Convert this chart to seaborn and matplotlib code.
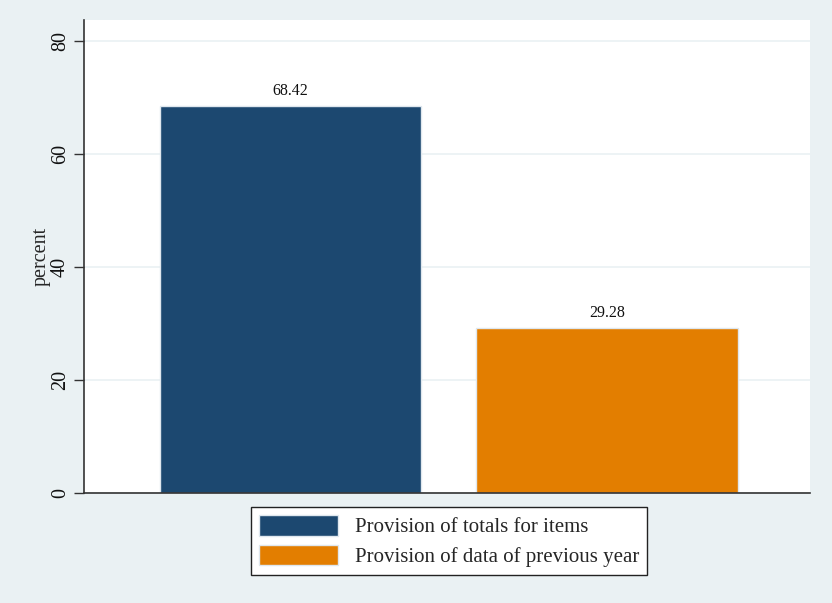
import matplotlib
matplotlib.use("Agg")
import matplotlib.pyplot as plt
import seaborn as sns
import pandas as pd
from matplotlib.patches import Patch

categories = ["Provision of totals for items", "Provision of data of previous year"]
percent = [68.42, 29.28]
colors = ["#1C4870", "#E37E00"]

BG = "#EAF1F3"

sns.set_style("white")
plt.rcParams["font.family"] = ["Liberation Serif", "DejaVu Serif"]

df = pd.DataFrame({"item": categories, "percent": percent})

fig = plt.figure(figsize=(8.32, 6.03), dpi=100, facecolor=BG)
ax = fig.add_axes([84 / 832, 1 - 493 / 603, (810 - 84) / 832, (493 - 20) / 603])
ax.set_facecolor("white")

sns.barplot(
    data=df, x="item", y="percent", hue="item", palette=colors, saturation=1,
    width=0.825, legend=False, ax=ax, edgecolor="#dfe7ee", linewidth=1.0,
)

for c in ax.containers:
    ax.bar_label(c, fmt="%.2f", padding=5, fontsize=11.5, color="#111111")

ax.set_xlim(-0.652, 1.641)
ax.set_ylim(0, 80 * 473 / 452)
ax.set_yticks([0, 20, 40, 60, 80])
ax.set_yticklabels(["0", "20", "40", "60", "80"], rotation=90, va="center", fontsize=14.5)
ax.set_xticks([])
ax.set_xlabel("")
ax.set_ylabel("percent", fontsize=14.5, labelpad=0)
ax.yaxis.grid(True, color=BG, linewidth=1.2)
ax.set_axisbelow(True)
ax.tick_params(axis="y", direction="out", length=7, width=1, color="#333333", pad=3,
               left=True, labelcolor="#111111")

for side in ["top", "right"]:
    ax.spines[side].set_visible(False)
for side in ["left", "bottom"]:
    ax.spines[side].set_color("#333333")
    ax.spines[side].set_linewidth(1.2)

handles = [Patch(facecolor=col, edgecolor="#dfe7ee") for col in colors]
leg = fig.legend(
    handles, categories, loc="center", bbox_to_anchor=(449 / 832, 1 - 541 / 603),
    ncol=1, fontsize=15, frameon=True, fancybox=False, edgecolor="#222222", facecolor="white",
    framealpha=1, handlelength=3.8, handleheight=1.15, handletextpad=0.8,
    borderpad=0.4, labelspacing=0.35,
)
leg.get_frame().set_linewidth(1.0)

fig.savefig("out.png", dpi=100, facecolor=BG)
